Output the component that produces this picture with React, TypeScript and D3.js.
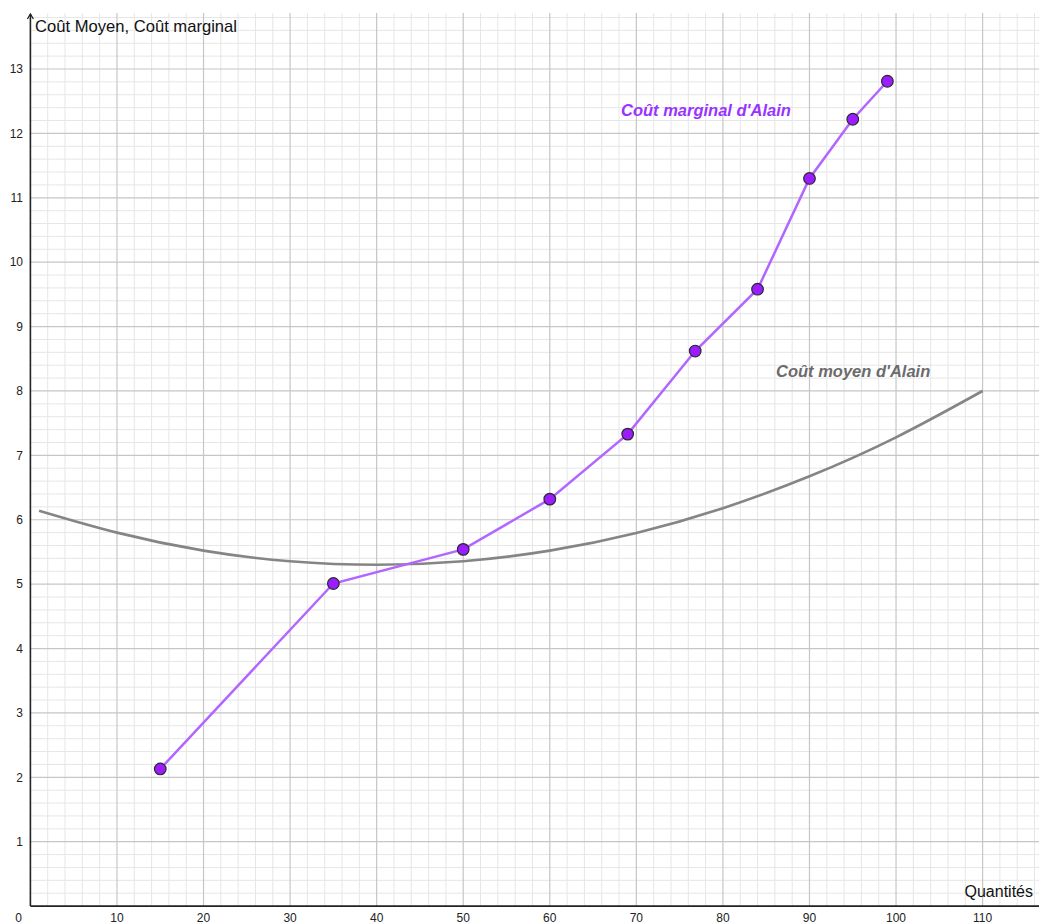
import React from "react";
import * as d3 from "d3";

// Marginal cost (Coût marginal d'Alain) points
const mcQuantities = [15, 35, 50, 60, 69, 76.8, 84, 90, 95, 99];
const mcValues = [2.13, 5.01, 5.54, 6.32, 7.33, 8.62, 9.58, 11.3, 12.22, 12.81];

// Average cost (Coût moyen d'Alain) curve
const acQuantities = [1, 10, 20, 30, 40, 50, 60, 70, 80, 90, 100, 110];
const acValues = [6.14, 5.8, 5.52, 5.355, 5.3, 5.355, 5.52, 5.795, 6.18, 6.675, 7.28, 8.0];

const xTicks = [10, 20, 30, 40, 50, 60, 70, 80, 90, 100, 110];
const yTicks = [1, 2, 3, 4, 5, 6, 7, 8, 9, 10, 11, 12, 13];

const yAxisTitle = "Coût Moyen, Coût marginal";
const xAxisTitle = "Quantités";
const mcLabel = "Coût marginal d'Alain";
const acLabel = "Coût moyen d'Alain";

const W = 1039;
const H = 924;
const FONT = "'Liberation Sans', Arial, Helvetica, sans-serif";

export default function App() {
  const x = d3.scaleLinear().domain([0, 110]).range([30.4, 982.6]);
  const y = d3.scaleLinear().domain([0, 13]).range([906.1, 69]);

  const gridRight = W;
  const gridTop = 13;
  const xMax = x.invert(gridRight);
  const yMax = y.invert(gridTop);

  const minorX = d3.range(2, xMax, 2).filter((v) => Math.abs(v % 10) > 1e-6);
  const minorY = d3.range(0.2, yMax, 0.2).filter((v) => Math.abs(Math.round(v) - v) > 1e-6);
  const majorX = d3.range(10, xMax, 10);
  const majorY = d3.range(1, yMax, 1);

  const acData = acQuantities.map((q, i) => [q, acValues[i]] as [number, number]);
  const mcData = mcQuantities.map((q, i) => [q, mcValues[i]] as [number, number]);

  const acLine = d3
    .line<[number, number]>()
    .x((d) => x(d[0]))
    .y((d) => y(d[1]))
    .curve(d3.curveNatural);
  const mcLine = d3
    .line<[number, number]>()
    .x((d) => x(d[0]))
    .y((d) => y(d[1]));

  const x0 = x(0);
  const y0 = y(0);

  return (
    <svg
      width={W}
      height={H}
      style={{ position: "absolute", left: 0, top: 0, background: "#fff" }}
      fontFamily={FONT}
    >
      <rect x={0} y={0} width={W} height={H} fill="#ffffff" />
      {/* minor grid */}
      <g stroke="#e6e6e6" strokeWidth={1}>
        {minorX.map((v) => (
          <line key={"mx" + v} x1={x(v)} x2={x(v)} y1={gridTop} y2={y0} />
        ))}
        {minorY.map((v) => (
          <line key={"my" + v} x1={x0} x2={gridRight} y1={y(v)} y2={y(v)} />
        ))}
      </g>
      {/* major grid */}
      <g stroke="#c6c6c6" strokeWidth={1.2}>
        {majorX.map((v) => (
          <line key={"Mx" + v} x1={x(v)} x2={x(v)} y1={gridTop} y2={y0} />
        ))}
        {majorY.map((v) => (
          <line key={"My" + v} x1={x0} x2={gridRight} y1={y(v)} y2={y(v)} />
        ))}
      </g>
      {/* axes */}
      <line x1={x0} x2={W} y1={y0} y2={y0} stroke="#222" strokeWidth={1.6} />
      <line x1={x0} x2={x0} y1={y0} y2={14} stroke="#222" strokeWidth={1.6} />
      <path
        d={`M${x0 - 3},${19} L${x0},${14} L${x0 + 3},${19}`}
        fill="none"
        stroke="#222"
        strokeWidth={1.3}
      />
      {/* tick labels */}
      <g fontSize={12} fill="#222">
        {xTicks.map((t) => (
          <text key={"xt" + t} x={x(t)} y={922} textAnchor="middle">
            {t}
          </text>
        ))}
        <text x={18.5} y={922} textAnchor="middle">
          0
        </text>
        {yTicks.map((t) => (
          <text key={"yt" + t} x={23} y={y(t) + 4.3} textAnchor="end">
            {t}
          </text>
        ))}
      </g>
      {/* axis titles */}
      <text x={35} y={32} fontSize={16.6} fill="#111">
        {yAxisTitle}
      </text>
      <text x={1033} y={897} fontSize={16} fill="#111" textAnchor="end">
        {xAxisTitle}
      </text>
      {/* average cost curve */}
      <path d={acLine(acData) || ""} fill="none" stroke="#858585" strokeWidth={2.6} />
      {/* marginal cost */}
      <path d={mcLine(mcData) || ""} fill="none" stroke="#b266ff" strokeWidth={2.5} />
      {mcData.map((d, i) => (
        <circle
          key={"p" + i}
          cx={x(d[0])}
          cy={y(d[1])}
          r={5.8}
          fill="#9a1cff"
          stroke="#2a2a2a"
          strokeWidth={1.2}
        />
      ))}
      {/* labels */}
      <text
        x={621}
        y={116}
        fontSize={16.5}
        fontWeight="bold"
        fontStyle="italic"
        fill="#9933ff"
      >
        {mcLabel}
      </text>
      <text
        x={776}
        y={377}
        fontSize={16.5}
        fontWeight="bold"
        fontStyle="italic"
        fill="#6b6b6b"
      >
        {acLabel}
      </text>
    </svg>
  );
}
